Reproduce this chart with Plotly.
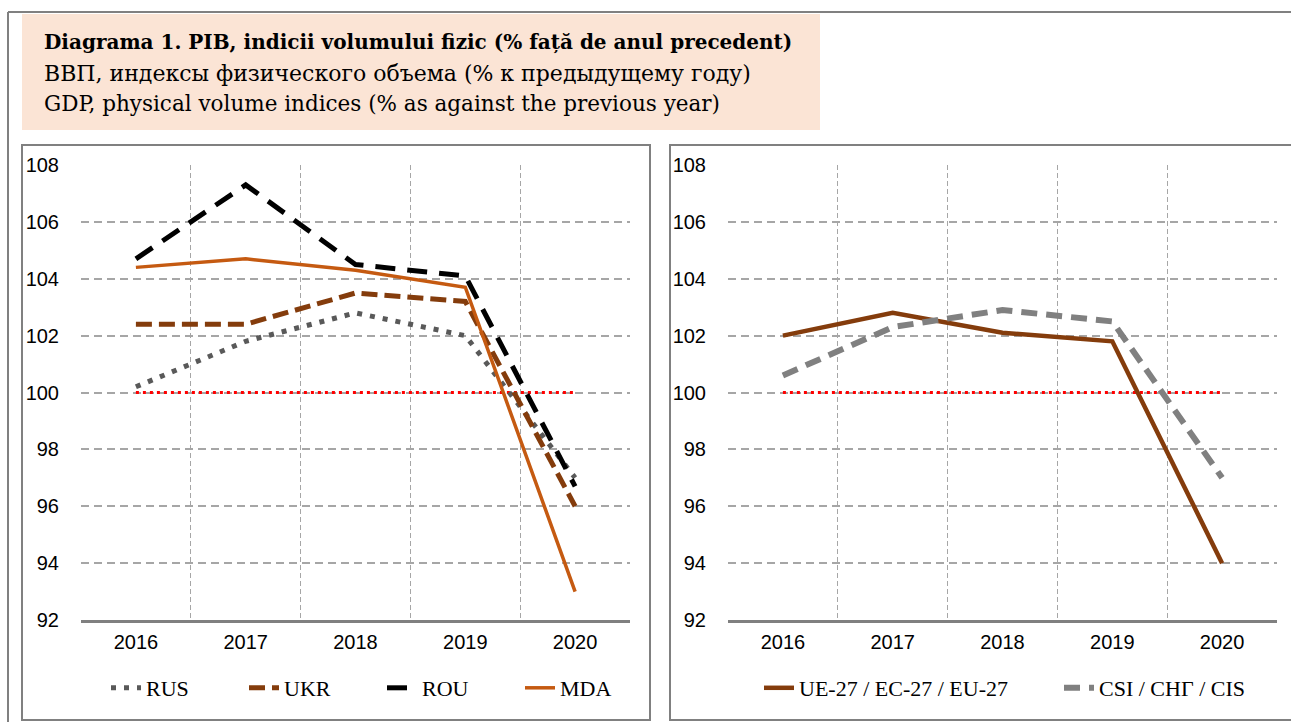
import plotly.graph_objects as go

years = ["2016", "2017", "2018", "2019", "2020"]
rus = [100.2, 101.8, 102.8, 102.0, 97.0]
ukr = [102.4, 102.4, 103.5, 103.2, 96.0]
rou = [104.7, 107.3, 104.5, 104.1, 96.7]
mda = [104.4, 104.7, 104.3, 103.7, 93.0]
eu27 = [102.0, 102.8, 102.1, 101.8, 94.0]
cis = [100.6, 102.3, 102.9, 102.5, 97.0]
baseline = [100, 100, 100, 100, 100]

W, H = 1291, 722
def px(x): return x / W
def py(y): return 1 - y / H

SERIF = "Liberation Serif"
TITLEF = "DejaVu Serif"
TICKF = "Liberation Sans"

fig = go.Figure()

# left panel
fig.add_trace(go.Scatter(x=years, y=baseline, mode="lines", line=dict(color="#FF0000", width=3, dash="3px,4px"),
                         showlegend=False, xaxis="x", yaxis="y", hoverinfo="skip"))
fig.add_trace(go.Scatter(x=years, y=rus, name="RUS", mode="lines", line=dict(color="#595959", width=5, dash="5px,8px"),
                         xaxis="x", yaxis="y", legend="legend"))
fig.add_trace(go.Scatter(x=years, y=ukr, name="UKR", mode="lines", line=dict(color="#843C0C", width=5, dash="16px,7px"),
                         xaxis="x", yaxis="y", legend="legend"))
fig.add_trace(go.Scatter(x=years, y=rou, name="ROU", mode="lines", line=dict(color="#000000", width=5, dash="20px,12px"),
                         xaxis="x", yaxis="y", legend="legend"))
fig.add_trace(go.Scatter(x=years, y=mda, name="MDA", mode="lines", line=dict(color="#C55A11", width=3.5),
                         xaxis="x", yaxis="y", legend="legend"))

# right panel
fig.add_trace(go.Scatter(x=years, y=baseline, mode="lines", line=dict(color="#FF0000", width=3, dash="3px,4px"),
                         showlegend=False, xaxis="x2", yaxis="y2", hoverinfo="skip"))
fig.add_trace(go.Scatter(x=years, y=eu27, name="UE-27 / EC-27 / EU-27", mode="lines",
                         line=dict(color="#843C0C", width=4.5), xaxis="x2", yaxis="y2", legend="legend2"))
fig.add_trace(go.Scatter(x=years, y=cis, name="CSI / СНГ / CIS", mode="lines",
                         line=dict(color="#808080", width=6, dash="16px,9px"), xaxis="x2", yaxis="y2", legend="legend2"))

xcommon = dict(type="category", tickson="boundaries", showgrid=True, gridcolor="#A6A6A6", griddash="5px,3px",
               gridwidth=1, showline=True, linecolor="#808080", linewidth=2.5, ticks="", automargin=False,
               ticklabelstandoff=2,
               tickfont=dict(family=TICKF, size=20, color="#000000"), range=[-0.5, 4.5], fixedrange=True)
ycommon = dict(range=[92, 108], dtick=2, showgrid=True, gridcolor="#A6A6A6", griddash="8px,5px", gridwidth=2,
               zeroline=False, showline=False, ticks="", ticklabelstandoff=21, automargin=False,
               tickfont=dict(family=TICKF, size=20, color="#000000"), fixedrange=True)

fig.update_layout(
    width=W, height=H, margin=dict(l=0, r=0, t=0, b=0, autoexpand=False),
    paper_bgcolor="#FFFFFF", plot_bgcolor="#FFFFFF",
    xaxis=dict(domain=[px(81), px(630)], anchor="y", **xcommon),
    yaxis=dict(domain=[py(620), py(165)], anchor="x", **ycommon),
    xaxis2=dict(domain=[px(728), px(1277)], anchor="y2", **xcommon),
    yaxis2=dict(domain=[py(620), py(165)], anchor="x2", **ycommon),
    legend=dict(orientation="h", x=px(106), xanchor="left", y=py(688), yanchor="middle",
                entrywidth=93, entrywidthmode="pixels",
                font=dict(family=SERIF, size=22, color="#000000"), bgcolor="rgba(0,0,0,0)"),
    legend2=dict(orientation="h", x=px(759), xanchor="left", y=py(688), yanchor="middle",
                 entrywidth=255, entrywidthmode="pixels",
                 font=dict(family=SERIF, size=22, color="#000000"), bgcolor="rgba(0,0,0,0)"),
    showlegend=True,
)

shapes = [
    # outer frame
    dict(type="line", xref="paper", yref="paper", x0=px(8), x1=px(8), y0=py(12), y1=py(722),
         line=dict(color="#808080", width=2)),
    dict(type="line", xref="paper", yref="paper", x0=px(8), x1=px(1291), y0=py(12), y1=py(12),
         line=dict(color="#808080", width=2)),
    # title box
    dict(type="rect", xref="paper", yref="paper", x0=px(22), x1=px(820), y0=py(130), y1=py(14),
         fillcolor="#FBE4D5", line=dict(width=0), layer="below"),
    # left panel frame
    dict(type="rect", xref="paper", yref="paper", x0=px(22), x1=px(650), y0=py(720), y1=py(145),
         line=dict(color="#808080", width=2)),
    # right panel frame
    dict(type="rect", xref="paper", yref="paper", x0=px(670), x1=px(1295), y0=py(720), y1=py(145),
         line=dict(color="#808080", width=2)),
]
fig.update_layout(shapes=shapes)

title_lines = [
    ("<b>Diagrama 1. PIB, indicii volumului fizic (% față de anul precedent)</b>", 42, 20),
    ("ВВП, индексы физического объема (% к предыдущему году)", 73, 22),
    ("GDP, physical volume indices (% as against the previous year)", 104, 21.5),
]
for txt, yy, fs in title_lines:
    fig.add_annotation(text=txt, xref="paper", yref="paper", x=px(42), y=py(yy), xanchor="left",
                       yanchor="middle", showarrow=False, font=dict(family=TITLEF, size=fs, color="#000000"))

fig.write_html("out.html", config={"displayModeBar": False},
               post_script="document.body.style.margin='0';document.body.style.overflow='hidden';")
